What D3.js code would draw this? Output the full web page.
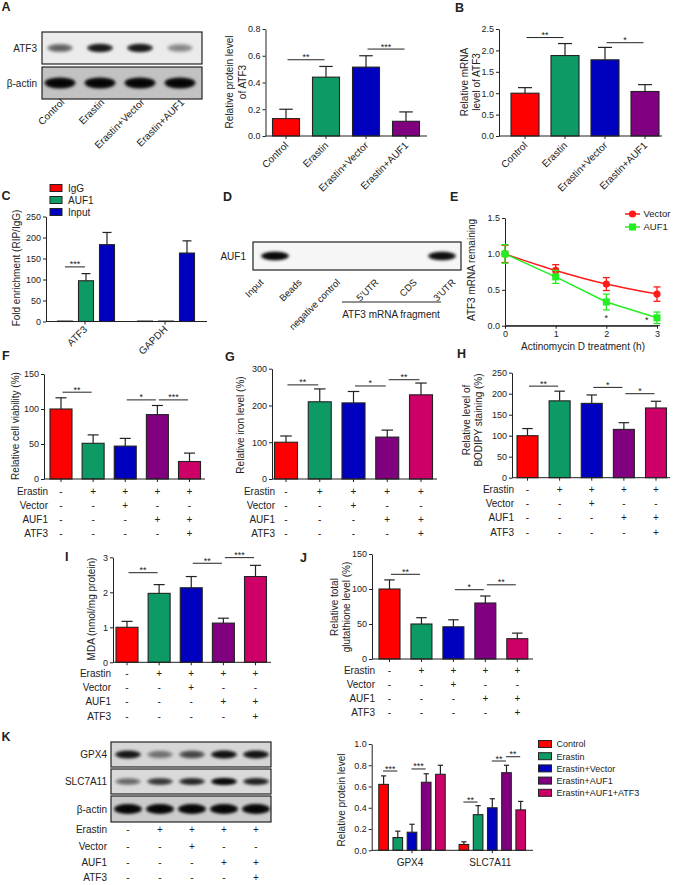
<!DOCTYPE html>
<html><head><meta charset="utf-8">
<script src="https://cdn.jsdelivr.net/npm/d3@7"></script>
<style>
body{margin:0;background:#fff}
svg{display:block}
text{font-family:'Liberation Sans',Arial,sans-serif;fill:#222}
</style>
</head><body>
<svg id="fig" width="673" height="885"></svg>
<script>
// ---------------- DATA ----------------
const groups4 = ["Control","Erastin","Erastin+Vector","Erastin+AUF1"];
const groups5 = ["Control","Erastin","Erastin+Vector","Erastin+AUF1","Erastin+AUF1+ATF3"];
const atf3Protein = [0.13,0.44,0.515,0.11];
const atf3ProteinErr = [0.07,0.08,0.085,0.07];
const atf3mRNA = [1.0,1.88,1.78,1.04];
const atf3mRNAErr = [0.13,0.28,0.29,0.16];
const ripTargets = ["ATF3","GAPDH"];
const ripSeries = ["IgG","AUF1","Input"];
const ripValues = [[1,97,183],[1,1,163]];
const ripErr = [[0,17,29],[0,0,29]];
const timeH = [0,1,2,3];
const vectorRemain = [1.0,0.77,0.58,0.44];
const vectorErr = [0.12,0.08,0.09,0.10];
const auf1Remain = [1.0,0.68,0.33,0.11];
const auf1Err = [0.13,0.09,0.11,0.08];
const viability = [100,51,47,92,25];
const viabilityErr = [16,12,11,13,12];
const iron = [100,210,207,114,229];
const ironErr = [17,35,31,19,32];
const bodipy = [100,183,177,115,166];
const bodipyErr = [17,23,20,16,16];
const mda = [1.0,1.97,2.13,1.12,2.45];
const mdaErr = [0.17,0.25,0.32,0.14,0.32];
const gsh = [100,50,46,80,29];
const gshErr = [13,9,10,10,8];
const kProteins = ["GPX4","SLC7A11"];
const kValues = [[0.62,0.12,0.17,0.64,0.715],[0.055,0.335,0.40,0.73,0.38]];
const kErr = [[0.08,0.06,0.075,0.08,0.085],[0.025,0.085,0.085,0.07,0.08]];
const treatRows = ["Erastin","Vector","AUF1","ATF3"];
const treatSigns = [["-","+","+","+","+"],["-","-","+","-","-"],["-","-","-","+","+"],["-","-","-","-","+"]];
const ticksA = [0,0.2,0.4,0.6,0.8];
const ticksB = [0,0.5,1.0,1.5,2.0,2.5];
const ticksC = [0,50,100,150,200,250];
const ticksE = [0,0.5,1.0,1.5];
const ticksF = [0,50,100,150];
const ticksG = [0,100,200,300];
const ticksH = [0,50,100,150,200,250];
const ticksI = [0,1,2,3];
const ticksJ = [0,50,100,150];
const ticksK = [0,0.2,0.4,0.6,0.8,1.0];
// blot band intensities (0..1)
const blotA_ATF3 = [0.45,0.85,0.85,0.3];
const blotA_actin = [1,1,1,1];
const dLanes = ["Input","Beads","negative control","5'UTR","CDS","3'UTR"];
const blotD_AUF1 = [1,0,0,0,0,0.95];
const blotK_GPX4 = [0.85,0.35,0.55,0.9,0.88];
const blotK_SLC = [0.4,0.65,0.75,1,0.8];
const blotK_actin = [1,1,1,1,1];

// ---------------- STYLE ----------------
const COL = ["#ff0000","#0e9a64","#0000bf","#800080","#cc0066"];
const INK = "#222";
const svg = d3.select("#fig");
const defs = svg.append("defs");
defs.append("filter").attr("id","blur").attr("x","-50%").attr("y","-150%").attr("width","200%").attr("height","400%")
  .append("feGaussianBlur").attr("stdDeviation",1.7);

function axisStyle(sel){
  sel.attr("font-family","'Liberation Sans',Arial,sans-serif").attr("font-size",9);
  sel.selectAll("path,line").attr("stroke",INK).attr("stroke-width",1);
  sel.selectAll("text").attr("fill",INK);
}
function T(x,y,s,o={}){
  const t=svg.append("text").attr("x",x).attr("y",y).attr("font-size",o.size||10).text(s);
  if(o.anchor) t.attr("text-anchor",o.anchor);
  if(o.bold) t.attr("font-weight","bold");
  if(o.fill) t.attr("fill",o.fill);
  return t;
}
function panelLabel(x,y,s){ T(x,y,s,{size:12.5,bold:true,fill:"#000"}); }
function vlabel(x,y,s,size=10){
  svg.append("text").attr("transform",`translate(${x},${y}) rotate(-90)`).attr("text-anchor","middle").attr("font-size",size).text(s);
}
function rlabel(x,y,s,size=10){
  svg.append("text").attr("transform",`translate(${x},${y}) rotate(-45)`).attr("text-anchor","end").attr("font-size",size).text(s);
}
function sigBar(g,x1,x2,yy,label){
  g.append("line").attr("x1",x1).attr("x2",x2).attr("y1",yy).attr("y2",yy).attr("stroke",INK).attr("stroke-width",1);
  g.append("text").attr("x",(x1+x2)/2).attr("y",yy+0.5).attr("text-anchor","middle").attr("font-size",9).text(label);
}
function errBar(g,cx,yv,ye,cap){
  g.append("line").attr("x1",cx).attr("x2",cx).attr("y1",yv).attr("y2",ye).attr("stroke",INK).attr("stroke-width",1.2);
  g.append("line").attr("x1",cx-cap).attr("x2",cx+cap).attr("y1",ye).attr("y2",ye).attr("stroke",INK).attr("stroke-width",1.2);
}

function barPanel(c){
  const g = svg.append("g");
  const y = d3.scaleLinear().domain([0,c.yMax]).range([c.y0,c.yTop]);
  const x = d3.scalePoint().domain(d3.range(c.values.length)).range(c.xRange);
  c.values.forEach((v,i)=>{ if(c.errs[i]) errBar(g,x(i),y(v),y(v+c.errs[i]),c.bw*0.25); });
  g.selectAll("rect.bar").data(c.values).join("rect").attr("class","bar")
    .attr("x",(d,i)=>x(i)-c.bw/2).attr("width",c.bw)
    .attr("y",d=>y(d)).attr("height",d=>c.y0-y(d))
    .attr("fill",(d,i)=>COL[i]).attr("stroke",INK).attr("stroke-width",1.1);
  g.append("g").attr("transform",`translate(${c.axisX},0)`)
    .call(d3.axisLeft(y).tickValues(c.ticks).tickFormat(d3.format(c.fmt)).tickSize(3).tickSizeOuter(0).tickPadding(2))
    .call(axisStyle);
  g.append("line").attr("x1",c.axisX).attr("x2",c.xEnd).attr("y1",c.y0).attr("y2",c.y0).attr("stroke",INK);
  c.values.forEach((v,i)=>g.append("line").attr("x1",x(i)).attr("x2",x(i)).attr("y1",c.y0).attr("y2",c.y0+3).attr("stroke",INK));
  (c.sigs||[]).forEach(s=>sigBar(g,x(s[0])+1.5,x(s[1])-1.5,y(s[2]),s[3]));
  return {x,y};
}
function table(xs,labelRight,rowYs){
  treatRows.forEach((r,ri)=>{
    T(labelRight,rowYs[ri]+3.5,r,{anchor:"end"});
    treatSigns[ri].forEach((s,ci)=>T(xs(ci),rowYs[ri]+3.5,s,{anchor:"middle"}));
  });
}
function blot(b){
  const g=svg.append("g");
  g.append("rect").attr("x",b.x1).attr("y",b.y1).attr("width",b.x2-b.x1).attr("height",b.y2-b.y1).attr("fill",b.bg);
  const cy=(b.y1+b.y2)/2;
  b.values.forEach((v,i)=>{
    if(v<=0) return;
    g.append("ellipse").attr("cx",b.lanes(i)).attr("cy",cy).attr("rx",b.bw/2).attr("ry",b.bh)
      .attr("fill","#000").attr("opacity",Math.min(1,v*0.9)).attr("filter","url(#blur)");
    g.append("ellipse").attr("cx",b.lanes(i)).attr("cy",cy).attr("rx",b.bw/2-3).attr("ry",b.bh*0.6)
      .attr("fill","#000").attr("opacity",v*0.7).attr("filter","url(#blur)");
  });
  g.append("rect").attr("x",b.x1).attr("y",b.y1).attr("width",b.x2-b.x1).attr("height",b.y2-b.y1)
    .attr("fill","none").attr("stroke","#222").attr("stroke-width",1.2);
  T(b.labelX,cy+3.5,b.label,{anchor:"end"});
}

// ---------------- PANEL A ----------------
panelLabel(1.5,10.5,"A");
const lanesA = d3.scalePoint().domain(d3.range(4)).range([60,180]);
blot({x1:42,x2:202,y1:32,y2:64,bg:"#ebebeb",lanes:lanesA,values:blotA_ATF3,bw:26,bh:4.2,label:"ATF3",labelX:37});
blot({x1:42,x2:202,y1:67,y2:99,bg:"#c2c2c2",lanes:lanesA,values:blotA_actin,bw:31,bh:5.5,label:"β-actin",labelX:37});
groups4.forEach((s,i)=>rlabel(lanesA(i)+5,103,s,10));
const pA = barPanel({axisX:265.5,y0:136,yTop:29,yMax:0.8,ticks:ticksA,fmt:".1f",xRange:[286,406],xEnd:427,bw:27,
  values:atf3Protein,errs:atf3ProteinErr,sigs:[[0,1,0.57,"**"],[2,3,0.65,"***"]]});
groups4.forEach((s,i)=>rlabel(pA.x(i)+3,146,s,10));
vlabel(233,82,"Relative protein level");
vlabel(245.5,82,"of ATF3");

// ---------------- PANEL B ----------------
panelLabel(455,12,"B");
const pB = barPanel({axisX:499,y0:136,yTop:29,yMax:2.5,ticks:ticksB,fmt:".1f",xRange:[525,645],xEnd:662,bw:28,
  values:atf3mRNA,errs:atf3mRNAErr,sigs:[[0,1,2.30,"**"],[2,3,2.18,"*"]]});
groups4.forEach((s,i)=>rlabel(pB.x(i)+3,146,s,10));
vlabel(468,82,"Relative mRNA");
vlabel(480,82,"level of ATF3");

// ---------------- PANEL C ----------------
panelLabel(1.5,200,"C");
{
  const g=svg.append("g");
  const y=d3.scaleLinear().domain([0,250]).range([321.5,216.5]);
  const gx=d3.scalePoint().domain(ripTargets).range([86,166]);
  const sx=d3.scalePoint().domain(ripSeries).range([-21,21]);
  const bw=15;
  ripTargets.forEach((t,ti)=>ripSeries.forEach((s,si)=>{
    const v=ripValues[ti][si], e=ripErr[ti][si], cx=gx(t)+sx(s);
    if(e) errBar(g,cx,y(v),y(v+e),bw*0.3);
  }));
  ripTargets.forEach((t,ti)=>ripSeries.forEach((s,si)=>{
    const v=ripValues[ti][si], cx=gx(t)+sx(s);
    g.append("rect").attr("x",cx-bw/2).attr("width",bw).attr("y",y(v)).attr("height",321.5-y(v))
      .attr("fill",COL[si]).attr("stroke",INK).attr("stroke-width",1.1);
  }));
  g.append("g").attr("transform","translate(46,0)")
    .call(d3.axisLeft(y).tickValues(ticksC).tickFormat(d3.format("d")).tickSize(3).tickSizeOuter(0).tickPadding(2)).call(axisStyle);
  g.append("line").attr("x1",46).attr("x2",207).attr("y1",321.5).attr("y2",321.5).attr("stroke",INK);
  ripTargets.forEach(t=>{
    g.append("line").attr("x1",gx(t)-1).attr("x2",gx(t)-1).attr("y1",321.5).attr("y2",324.5).attr("stroke",INK);
    rlabel(gx(t)+2,330,t,10);
  });
  sigBar(g,gx("ATF3")+sx("IgG"),gx("ATF3")+sx("AUF1")-1,y(130),"***");
  vlabel(19.5,268,"Fold enrichment (RIP/IgG)");
  ripSeries.forEach((s,i)=>{
    const yy=188+i*12;
    svg.append("rect").attr("x",50).attr("y",yy-3.5).attr("width",12).attr("height",7).attr("fill",COL[i]).attr("stroke",INK).attr("stroke-width",1);
    T(68,yy+3.5,s,{size:10});
  });
}

// ---------------- PANEL D ----------------
panelLabel(223,201,"D");
{
  const lanesD=d3.scalePoint().domain(d3.range(dLanes.length)).range([275,442]);
  blot({x1:253,x2:461,y1:242,y2:270,bg:"#f6f6f6",lanes:lanesD,values:blotD_AUF1,bw:28,bh:4.2,label:"AUF1",labelX:246});
  const labD=d3.scalePoint().domain(d3.range(dLanes.length)).range([264,456]);
  dLanes.forEach((s,i)=>rlabel(labD(i),283,s,9.5));
  svg.append("line").attr("x1",342).attr("x2",441).attr("y1",302).attr("y2",302).attr("stroke",INK);
  T(391,317.5,"ATF3 mRNA fragment",{anchor:"middle"});
}

// ---------------- PANEL E ----------------
panelLabel(450,201,"E");
{
  const g=svg.append("g");
  const x=d3.scaleLinear().domain([0,3]).range([505,657]);
  const y=d3.scaleLinear().domain([0,1.5]).range([325.7,218]);
  g.append("g").attr("transform","translate(505,0)")
    .call(d3.axisLeft(y).tickValues(ticksE).tickFormat(d3.format(".1f")).tickSize(3).tickSizeOuter(0).tickPadding(2)).call(axisStyle);
  g.append("g").attr("transform","translate(0,325.7)")
    .call(d3.axisBottom(x).tickValues(timeH).tickFormat(d3.format("d")).tickSize(3).tickSizeOuter(0).tickPadding(2)).call(axisStyle);
  g.append("line").attr("x1",505).attr("x2",660).attr("y1",325.7).attr("y2",325.7).attr("stroke",INK);
  const series=[{v:vectorRemain,e:vectorErr,c:"#ff1a1a",shape:"circle",curve:d3.curveMonotoneX},
                {v:auf1Remain,e:auf1Err,c:"#22ee22",shape:"square",curve:d3.curveLinear}];
  series.forEach(s=>{
    const line=d3.line().x((d,i)=>x(timeH[i])).y(d=>y(d)).curve(s.curve);
    g.append("path").attr("d",line(s.v)).attr("fill","none").attr("stroke",s.c).attr("stroke-width",1.5);
    s.v.forEach((v,i)=>{
      const cx=x(timeH[i]);
      g.append("line").attr("x1",cx).attr("x2",cx).attr("y1",y(v-s.e[i])).attr("y2",y(v+s.e[i])).attr("stroke",s.c).attr("stroke-width",1.3);
      [v-s.e[i],v+s.e[i]].forEach(q=>g.append("line").attr("x1",cx-3.5).attr("x2",cx+3.5).attr("y1",y(q)).attr("y2",y(q)).attr("stroke",s.c).attr("stroke-width",1.3));
      if(s.shape==="circle") g.append("circle").attr("cx",cx).attr("cy",y(v)).attr("r",3.6).attr("fill",s.c);
      else g.append("rect").attr("x",cx-3.5).attr("y",y(v)-3.5).attr("width",7).attr("height",7).attr("fill",s.c);
    });
  });
  [[2,0.12],[2.8,0.09]].forEach(p=>T(x(p[0]),y(p[1])+4,"*",{anchor:"middle",size:9}));
  vlabel(475,270,"ATF3 mRNA remaining");
  T(583,349.5,"Actinomycin D treatment (h)",{anchor:"middle"});
  [["Vector",series[0],214],["AUF1",series[1],227]].forEach(([name,s,yy])=>{
    svg.append("line").attr("x1",625).attr("x2",640).attr("y1",yy).attr("y2",yy).attr("stroke",s.c).attr("stroke-width",1.5);
    if(s.shape==="circle") svg.append("circle").attr("cx",632.5).attr("cy",yy).attr("r",3.6).attr("fill",s.c);
    else svg.append("rect").attr("x",629).attr("y",yy-3.5).attr("width",7).attr("height",7).attr("fill",s.c);
    T(643.5,yy+3.3,name,{size:9.5});
  });
}

// ---------------- PANEL F ----------------
panelLabel(2,360,"F");
const pF = barPanel({axisX:44,y0:479,yTop:374,yMax:150,ticks:ticksF,fmt:"d",xRange:[61,189.5],xEnd:205,bw:22,
  values:viability,errs:viabilityErr,sigs:[[0,1,124,"**"],[2,3,113,"*"],[3,4,113,"***"]]});
vlabel(19,426,"Relative cell viability (%)");
table(pF.x,48,[491,505,519,533]);

// ---------------- PANEL G ----------------
panelLabel(225,361,"G");
const pG = barPanel({axisX:272,y0:479,yTop:368.7,yMax:300,ticks:ticksG,fmt:"d",xRange:[286,421],xEnd:437,bw:23,
  values:iron,errs:ironErr,sigs:[[0,1,256,"**"],[2,3,253,"*"],[3,4,270,"**"]]});
vlabel(244,425,"Relative iron level (%)");
table(pG.x,275,[491,505,519,533]);

// ---------------- PANEL H ----------------
panelLabel(457,358,"H");
const pH = barPanel({axisX:512,y0:477.7,yTop:372.7,yMax:250,ticks:ticksH,fmt:"d",xRange:[527.5,656],xEnd:670,bw:21,
  values:bodipy,errs:bodipyErr,sigs:[[0,1,218,"**"],[2,3,215,"*"],[3,4,200,"*"]]});
vlabel(470,420,"Relative level of");
vlabel(481.5,420,"BODIPY staining (%)");
table(pH.x,514,[489.5,503.5,517.5,532]);

// ---------------- PANEL I ----------------
panelLabel(65,561,"I");
const pI = barPanel({axisX:113,y0:662.3,yTop:557.3,yMax:3,ticks:ticksI,fmt:"d",xRange:[127,255.5],xEnd:271,bw:22,
  values:mda,errs:mdaErr,sigs:[[0,1,2.56,"**"],[2,3,2.83,"**"],[3,4,2.99,"***"]]});
vlabel(95,609,"MDA (nmol/mg protein)");
table(pI.x,111,[673.3,687.5,701.7,716]);

// ---------------- PANEL J ----------------
panelLabel(300,562,"J");
const pJ = barPanel({axisX:372,y0:659,yTop:554,yMax:150,ticks:ticksJ,fmt:"d",xRange:[389.5,517.3],xEnd:533,bw:21,
  values:gsh,errs:gshErr,sigs:[[0,1,121,"**"],[2,3,99,"*"],[3,4,106,"**"]]});
vlabel(337.5,607,"Relative total");
vlabel(349.5,607,"glutathione level (%)");
table(pJ.x,375,[670,684,698,712.5]);

// ---------------- PANEL K ----------------
panelLabel(1.5,741,"K");
{
  const lanesK=d3.scalePoint().domain(d3.range(5)).range([128,256]);
  blot({x1:111,x2:271,y1:742,y2:767,bg:"#d6d6d6",lanes:lanesK,values:blotK_GPX4,bw:26,bh:4,label:"GPX4",labelX:107});
  blot({x1:111,x2:271,y1:769,y2:794,bg:"#dadada",lanes:lanesK,values:blotK_SLC,bw:26,bh:3.5,label:"SLC7A11",labelX:107});
  blot({x1:111,x2:271,y1:796,y2:822,bg:"#cbcbcb",lanes:lanesK,values:blotK_actin,bw:28,bh:5,label:"β-actin",labelX:107});
  table(lanesK,107,[829.5,846,862,877.5]);

  const g=svg.append("g");
  const y=d3.scaleLinear().domain([0,1]).range([850.3,744]);
  const gx=d3.scalePoint().domain(kProteins).range([412,492.3]);
  const sx=d3.scalePoint().domain(d3.range(5)).range([-28.4,28.4]);
  const bw=9.6;
  kProteins.forEach((p,pi)=>kValues[pi].forEach((v,i)=>errBar(g,gx(p)+sx(i),y(v),y(v+kErr[pi][i]),2.6)));
  kProteins.forEach((p,pi)=>kValues[pi].forEach((v,i)=>{
    g.append("rect").attr("x",gx(p)+sx(i)-bw/2).attr("width",bw).attr("y",y(v)).attr("height",850.3-y(v))
      .attr("fill",COL[i]).attr("stroke",INK).attr("stroke-width",1.1);
  }));
  g.append("g").attr("transform","translate(371.7,0)")
    .call(d3.axisLeft(y).tickValues(ticksK).tickFormat(d3.format(".1f")).tickSize(3).tickSizeOuter(0).tickPadding(2)).call(axisStyle);
  g.append("line").attr("x1",371.7).attr("x2",533).attr("y1",850.3).attr("y2",850.3).attr("stroke",INK);
  kProteins.forEach(p=>{
    g.append("line").attr("x1",gx(p)).attr("x2",gx(p)).attr("y1",850.3).attr("y2",853.3).attr("stroke",INK);
    T(gx(p)-2,865.5,p,{anchor:"middle"});
  });
  const ks=[["GPX4",0,1,0.746,"***"],["GPX4",2,3,0.765,"***"],["SLC7A11",0,1,0.454,"**"],["SLC7A11",2,3,0.84,"**"],["SLC7A11",3,4,0.88,"**"]];
  ks.forEach(s=>sigBar(g,gx(s[0])+sx(s[1])-0.5,gx(s[0])+sx(s[2])-0.5,y(s[3]),s[4]));
  vlabel(344.5,800,"Relative protein level");
  groups5.forEach((s,i)=>{
    const yy=744+i*12.2;
    svg.append("rect").attr("x",538.5).attr("y",yy-3.5).attr("width",13).attr("height",7).attr("fill",COL[i]).attr("stroke",INK).attr("stroke-width",1);
    T(556.5,yy+3.3,s,{size:9});
  });
}
</script>
</body></html>
